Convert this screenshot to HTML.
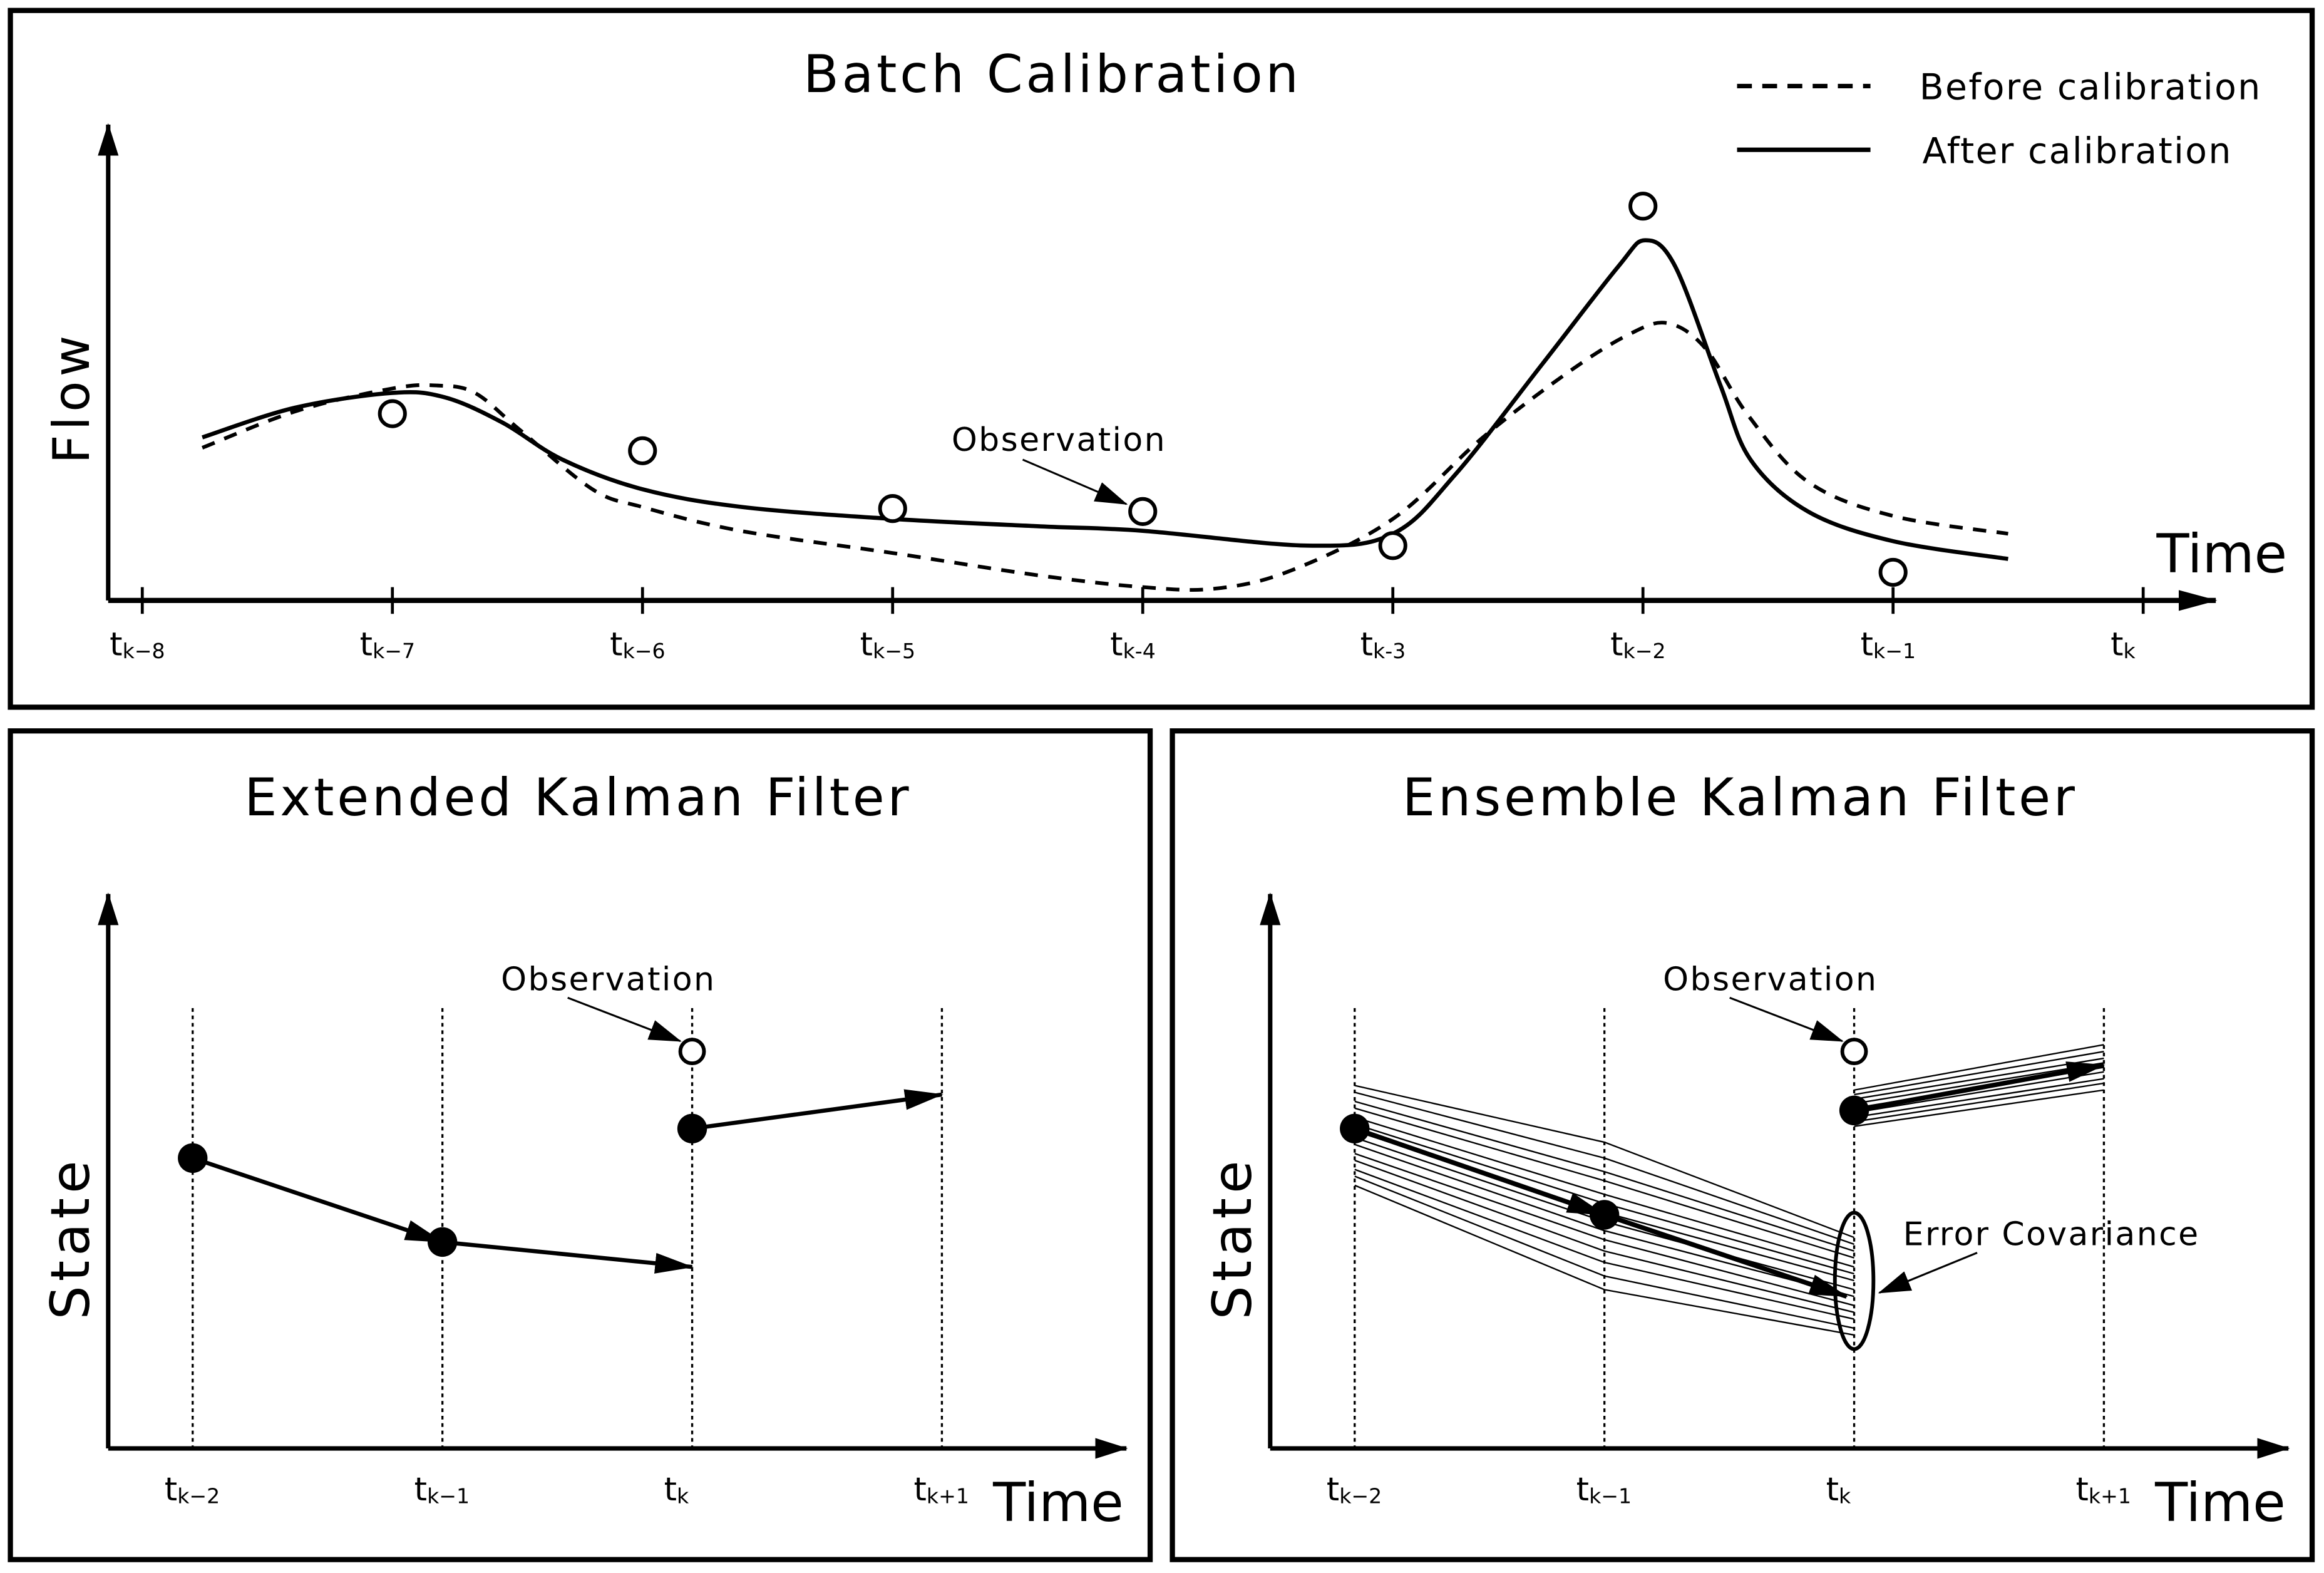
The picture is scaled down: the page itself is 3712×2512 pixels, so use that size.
<!DOCTYPE html>
<html><head><meta charset="utf-8"><style>
html,body{margin:0;padding:0;background:#fff}
svg{display:block}
text{font-family:"DejaVu Sans","Liberation Sans",sans-serif;fill:#000}
</style></head><body>
<svg id="fig" width="3712" height="2512" viewBox="0 0 1568 1061" xmlns="http://www.w3.org/2000/svg">
<defs>
<marker id="ah" markerWidth="10" markerHeight="8" refX="9" refY="4" orient="auto" markerUnits="userSpaceOnUse"><path d="M0,0 L10,4 L0,8 z" fill="#000"/></marker>
<marker id="ahb" markerWidth="26" markerHeight="14" refX="25" refY="7" orient="auto" markerUnits="userSpaceOnUse"><path d="M0,0 L26,7 L0,14 z" fill="#000"/></marker>
<marker id="ahm" markerWidth="22" markerHeight="14" refX="21" refY="7" orient="auto" markerUnits="userSpaceOnUse"><path d="M0,0 L22,7 L0,14 z" fill="#000"/></marker>
</defs>
<rect x="7" y="7" width="1553" height="470" fill="none" stroke="#000" stroke-width="3.5"/>
<rect x="7" y="493" width="769" height="559" fill="none" stroke="#000" stroke-width="3.5"/>
<rect x="791" y="493" width="769" height="559" fill="none" stroke="#000" stroke-width="3.5"/>

<text x="710" y="62" font-size="35" text-anchor="middle" letter-spacing="2">Batch Calibration</text>
<line x1="1172" y1="58" x2="1262" y2="58" stroke="#000" stroke-width="3" stroke-dasharray="10,7"/>
<text x="1295" y="67" font-size="24" letter-spacing="1">Before calibration</text>
<line x1="1172" y1="101" x2="1262" y2="101" stroke="#000" stroke-width="3"/>
<text x="1297" y="110" font-size="24" letter-spacing="1">After calibration</text>
<text transform="translate(60,268) rotate(-90)" font-size="34" text-anchor="middle" letter-spacing="3">Flow</text>
<text x="1455" y="386" font-size="36">Time</text>
<g id="batch"></g>

<text x="390" y="550" font-size="35" text-anchor="middle" letter-spacing="2">Extended Kalman Filter</text>
<text transform="translate(60,835) rotate(-90)" font-size="36" text-anchor="middle" letter-spacing="3">State</text>
<text x="670" y="1026" font-size="36">Time</text>
<g id="ekf"></g>

<text x="1174" y="550" font-size="35" text-anchor="middle" letter-spacing="2">Ensemble Kalman Filter</text>
<text transform="translate(844,835) rotate(-90)" font-size="36" text-anchor="middle" letter-spacing="3">State</text>
<text x="1454" y="1026" font-size="36">Time</text>
<g id="enkf"></g>
</svg>
<script>
// ---------- data ----------
const batchTicks = ["k\u22128","k\u22127","k\u22126","k\u22125","k-4","k-3","k\u22122","k\u22121","k"];
const obsT = [1,2,3,4,5,6,7];
const obsV = [2.26,2.01,1.62,1.60,1.37,3.66,1.19];
const afterT = [0.24,0.61,1,1.21,1.44,1.68,2,2.4,3,3.59,4,4.66,5,5.25,5.6,5.9,6.01,6.13,6.31,6.43,6.66,7,7.46];
const afterV = [2.10,2.30,2.40,2.37,2.20,1.95,1.75,1.63,1.55,1.50,1.47,1.37,1.45,1.85,2.60,3.25,3.43,3.25,2.45,1.95,1.60,1.40,1.28];
const beforeT = [0.24,0.62,1,1.18,1.33,1.51,1.80,2,2.39,3,3.58,4,4.29,4.59,5,5.36,5.71,5.95,6.1,6.25,6.42,6.66,7,7.46];
const beforeV = [2.03,2.28,2.43,2.45,2.40,2.15,1.75,1.63,1.47,1.32,1.17,1.09,1.08,1.20,1.55,2.10,2.55,2.80,2.87,2.70,2.25,1.80,1.57,1.45];
const stepLabels = ["k\u22122","k\u22121","k","k+1"];
const ekfState = [1.68,1.31,1.81];
const ekfForecast = [1.20,1.96];
const ekfObs = 2.15;
const enkfState = [1.81,1.43,1.89];
const enkfMeanEnd = [1.07,2.09];
const enkfObs = 2.15;
const ensA = [2.00,1.97,1.93,1.90,1.86,1.83,1.80,1.77,1.74,1.70,1.67,1.63,1.60,1.56];
const ensB = [1.75,1.68,1.62,1.58,1.52,1.48,1.44,1.40,1.36,1.32,1.27,1.22,1.16,1.10];
const ensC = [1.33,1.30,1.27,1.24,1.20,1.17,1.14,1.10,1.07,1.03,1.00,0.97,0.93,0.90];
const ensD = [1.98,1.96,1.94,1.92,1.90,1.88,1.86,1.84,1.82];
const ensE = [2.18,2.15,2.12,2.10,2.08,2.06,2.03,2.01,1.98];

const NS="http://www.w3.org/2000/svg";
function mk(p,tag,a){const e=document.createElementNS(NS,tag);for(const k in a)e.setAttribute(k,a[k]);p.appendChild(e);return e;}

// ---------- batch ----------
(function(){
 const g=document.getElementById('batch');
 const x=t=>96+t*168.75, y=v=>405-(v-1)*100;
 let e=mk(g,'line',{x1:73,y1:405,x2:1495,y2:405,stroke:'#000','stroke-width':3.5,'marker-end':'url(#ahb)'});
 
 
 e=mk(g,'line',{x1:73,y1:405,x2:73,y2:84,stroke:'#000','stroke-width':3,'marker-end':'url(#ahm)'});
 
 
 batchTicks.forEach((lb,i)=>{
  const tx=x(i);
  const t=mk(g,'line',{x1:tx,y1:396,x2:tx,y2:414,stroke:'#000','stroke-width':2});
  
  
  const tt=mk(g,'text',{x:tx-22,y:442,'font-size':22});
  
  
  tt.innerHTML='t<tspan font-size="14" dy="2">'+lb+'</tspan>';
 });
 function curve(T,V){let d='M'+x(T[0])+','+y(V[0]);
  for(let i=0;i<T.length-1;i++){const p0=[x(T[Math.max(0,i-1)]),y(V[Math.max(0,i-1)])],p1=[x(T[i]),y(V[i])],p2=[x(T[i+1]),y(V[i+1])],p3=[x(T[Math.min(T.length-1,i+2)]),y(V[Math.min(T.length-1,i+2)])];
   d+=` C${p1[0]+(p2[0]-p0[0])/6},${p1[1]+(p2[1]-p0[1])/6} ${p2[0]-(p3[0]-p1[0])/6},${p2[1]-(p3[1]-p1[1])/6} ${p2[0]},${p2[1]}`;}
  return d;}
 e=mk(g,'path',{d:curve(beforeT,beforeV),fill:'none',stroke:'#000','stroke-width':2.5,'stroke-dasharray':'9,7'});
 
 
 e=mk(g,'path',{d:curve(afterT,afterV),fill:'none',stroke:'#000','stroke-width':2.8});
 
 
 obsT.forEach((t,i)=>{const c=mk(g,'circle',{cx:x(t),cy:y(obsV[i]),r:8.5,fill:'#fff',stroke:'#000','stroke-width':2.5});
  
  });
 e=mk(g,'text',{x:642,y:304,'font-size':22,'letter-spacing':1});
 e.textContent='Observation';
 
 
 e=mk(g,'line',{x1:690,y1:310,x2:760,y2:340,stroke:'#000','stroke-width':1.3,'marker-end':'url(#ahm)'});
 
 
})();

// ---------- shared small-panel ----------
function panel(id,ox,pre){
 const g=document.getElementById(id);
 const x=i=>ox+57+i*168.5, y=v=>977-(v-0.4)*153;
 let e=mk(g,'line',{x1:ox,y1:977,x2:ox+687,y2:977,stroke:'#000','stroke-width':3,'marker-end':'url(#ahm)'});
 
 
 e=mk(g,'line',{x1:ox,y1:977,x2:ox,y2:603,stroke:'#000','stroke-width':3,'marker-end':'url(#ahm)'});
 
 
 stepLabels.forEach((lb,i)=>{
  const l=mk(g,'line',{x1:x(i),y1:680,x2:x(i),y2:977,stroke:'#000','stroke-width':1.4,'stroke-dasharray':'2.5,2.5'});
  
  
  const t=mk(g,'text',{x:x(i)-19,y:1012,'font-size':22});
  
  
  t.innerHTML='t<tspan font-size="14" dy="2">'+lb+'</tspan>';
 });
 return {g,x,y};
}
function obs(P,pre,v){
 const {g,x,y}=P;
 let c=mk(g,'circle',{cx:x(2),cy:y(v),r:8,fill:'#fff',stroke:'#000','stroke-width':2.5});
 
 
 let t=mk(g,'text',{x:x(2)-129,y:668,'font-size':22,'letter-spacing':1});
 t.textContent='Observation';
 
 
 let a=mk(g,'line',{x1:x(2)-84,y1:673,x2:x(2)-8,y2:y(v)-7,stroke:'#000','stroke-width':1.3,'marker-end':'url(#ahm)'});
 
 
}

(function(){
 const P=panel('ekf',73,'ekf'); const {g,x,y}=P;
 const arr=[[0,ekfState[0],1,ekfState[1]],[1,ekfState[1],2,ekfForecast[0]],[2,ekfState[2],3,ekfForecast[1]]];
 arr.forEach(a=>{const l=mk(g,'line',{x1:x(a[0]),y1:y(a[1]),x2:x(a[2]),y2:y(a[3]),stroke:'#000','stroke-width':2.8,'marker-end':'url(#ahb)'});
  
  });
 ekfState.forEach((v,i)=>{const c=mk(g,'circle',{cx:x(i),cy:y(v),r:10,fill:'#000'});
  
  });
 obs(P,'ekf',ekfObs);
})();

(function(){
 const P=panel('enkf',857,'enkf'); const {g,x,y}=P;
 ensA.forEach((v,i)=>{const p=mk(g,'polyline',{points:`${x(0)},${y(v)} ${x(1)},${y(ensB[i])} ${x(2)},${y(ensC[i])}`,fill:'none',stroke:'#000','stroke-width':1});
  
  });
 ensD.forEach((v,i)=>{const p=mk(g,'line',{x1:x(2),y1:y(v),x2:x(3),y2:y(ensE[i]),stroke:'#000','stroke-width':1});
  
  });
 const segs=[[0,enkfState[0],1,enkfState[1]],[1,enkfState[1],1.97,enkfMeanEnd[0]],[2,enkfState[2],3,enkfMeanEnd[1]]];
 segs.forEach(a=>{const l=mk(g,'line',{x1:x(a[0]),y1:y(a[1]),x2:x(a[2]),y2:y(a[3]),stroke:'#000','stroke-width':3.2,'marker-end':'url(#ahb)'});
  
  });
 enkfState.forEach((v,i)=>{const c=mk(g,'circle',{cx:x(i),cy:y(v),r:10,fill:'#000'});
  
  });
 let el=mk(g,'ellipse',{cx:x(2),cy:864,rx:13,ry:46,fill:'none',stroke:'#000','stroke-width':2.5});
 
 
 let t=mk(g,'text',{x:1284,y:840,'font-size':22,'letter-spacing':1});
 t.textContent='Error Covariance';
 
 
 let a=mk(g,'line',{x1:1334,y1:845,x2:1268,y2:872,stroke:'#000','stroke-width':1.3,'marker-end':'url(#ahm)'});
 
 
 obs(P,'enkf',enkfObs);
})();
</script>
</body></html>
